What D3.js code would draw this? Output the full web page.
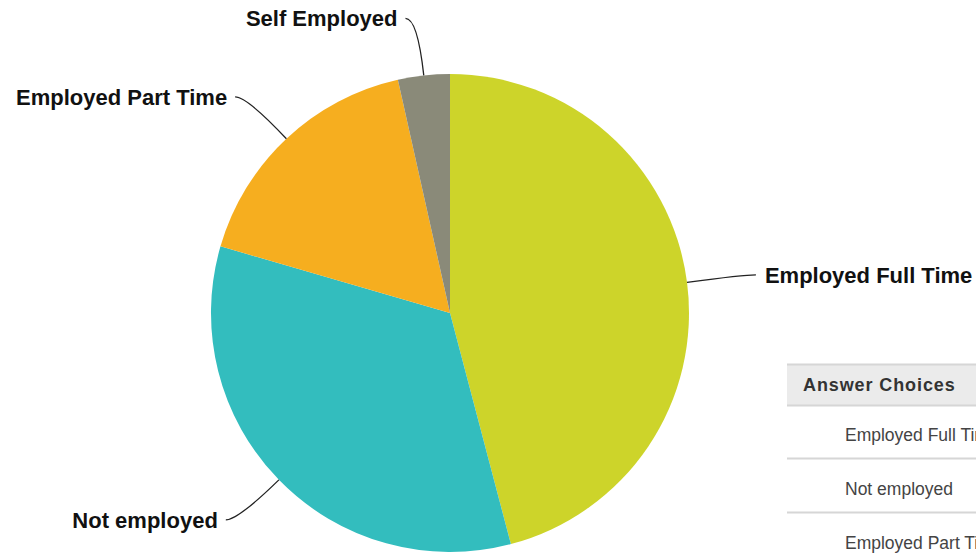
<!DOCTYPE html>
<html>
<head>
<meta charset="utf-8">
<script src="https://cdn.jsdelivr.net/npm/d3@7"></script>
<style>
  body { margin: 0; background: #fff; overflow: hidden; }
  svg { display: block; }
</style>
</head>
<body>
<svg id="chart" width="976" height="555"></svg>
<script>
let svg = d3.select("#chart");

//! DATA
let categories = ["Employed Full Time", "Not employed", "Employed Part Time", "Self Employed"];
let percents = [45.9, 33.6, 17.0, 3.5];
let colors = ["#cdd42a", "#33bdbe", "#f6ae1f", "#8a8a79"];
let tableHeader = "Answer Choices";
let tableRows = ["Employed Full Time", "Not employed", "Employed Part Time"];

let cx = 450, cy = 313, radius = 239;

let pie = d3.pie().sort(null).value(d => d.value);
let arcs = pie(categories.map((c, i) => ({ name: c, value: percents[i], color: colors[i] })));

let arc = d3.arc().innerRadius(0).outerRadius(radius);

let g = svg.append("g").attr("transform", `translate(${cx},${cy})`);

//? slices
g.selectAll("path.slice")
    .data(arcs)
    .enter()
    .append("path")
    .attr("class", "slice")
    .attr("d", arc)
    .attr("fill", d => d.data.color);

function polar(r, a) {
    return [r * Math.sin(a), -r * Math.cos(a)];
}

//? leader lines + labels
arcs.forEach(d => {
    let mid = (d.startAngle + d.endAngle) / 2;
    let side = Math.sin(mid) >= 0 ? 1 : -1;
    let p0 = polar(radius, mid);
    let c = polar(radius * 1.24, mid);
    let p1 = [c[0] + side * 12, c[1]];

    g.append("path")
        .attr("d", `M${p0[0]},${p0[1]} Q${c[0]},${c[1]} ${p1[0]},${p1[1]}`)
        .attr("fill", "none")
        .attr("stroke", "#222")
        .attr("stroke-width", 1.3);

    g.append("text")
        .attr("x", p1[0] + side * (side > 0 ? 9 : 8))
        .attr("y", p1[1])
        .attr("dy", "0.35em")
        .attr("text-anchor", side > 0 ? "start" : "end")
        .attr("font-family", "'Liberation Sans', Arial, sans-serif")
        .attr("font-weight", "bold")
        .attr("font-size", "22px")
        .attr("fill", "#111")
        .text(d.data.name);
});

//? partial table on the right
let tx = 787;
let table = svg.append("g");
table.append("rect")
    .attr("x", tx).attr("y", 364)
    .attr("width", 976 - tx).attr("height", 41)
    .attr("fill", "#ebebeb");
[364, 405, 458, 512].forEach(y => {
    table.append("line")
        .attr("x1", tx).attr("x2", 976)
        .attr("y1", y + 0.5).attr("y2", y + 0.5)
        .attr("stroke", "#d6d6d6")
        .attr("stroke-width", 2);
});
table.append("text")
    .attr("x", 803).attr("y", 391)
    .attr("font-family", "'Liberation Sans', Arial, sans-serif")
    .attr("font-weight", "bold")
    .attr("font-size", "18px")
    .attr("letter-spacing", "0.9px")
    .attr("fill", "#333")
    .text(tableHeader);
table.selectAll("text.row")
    .data(tableRows)
    .enter()
    .append("text")
    .attr("class", "row")
    .attr("x", 845)
    .attr("y", (d, i) => 441 + i * 54)
    .attr("font-family", "'Liberation Sans', Arial, sans-serif")
    .attr("font-size", "17.5px")
    .attr("fill", "#444")
    .text(d => d);
</script>
</body>
</html>
